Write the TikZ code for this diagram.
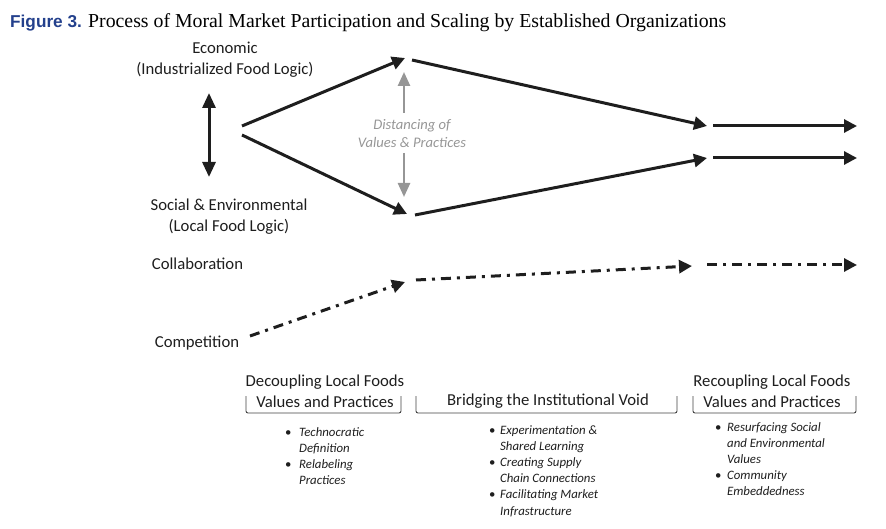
\documentclass[tikz,border=0pt]{standalone}
\usepackage{fontspec}
\setmainfont{Carlito}
\newfontfamily\titleserif{Liberation Serif}
\newfontfamily\titlesans{Liberation Sans}
\usetikzlibrary{arrows.meta}
\definecolor{figblue}{RGB}{35,64,140}
\definecolor{distgray}{RGB}{150,150,150}
\definecolor{ink}{RGB}{30,30,30}
\begin{document}
\begin{tikzpicture}[x=1pt,y=-1pt,
  flow/.style={line width=3pt, draw=ink, -{Triangle[length=13pt,width=13pt]}},
  dashflow/.style={flow, dash pattern=on 10pt off 6pt on 3pt off 6pt},
  grayarrow/.style={line width=2.5pt, draw=distgray, -{Triangle[length=14pt,width=12pt]}},
  lbl/.style={font=\fontsize{16.7}{21}\selectfont, align=center, text=ink, inner sep=0pt},
  distlbl/.style={font=\fontsize{14.6}{18}\selectfont\itshape, align=center, text=distgray, inner sep=0pt},
  bracket/.style={line width=0.9pt, draw=ink!85, rounded corners=2pt},
  blist/.style={font=\fontsize{12.8}{16.2}\selectfont\itshape, anchor=base west, inner sep=0pt, text=ink}
]
\useasboundingbox (0,0) rectangle (886,529);

% title
\node[anchor=base west, inner sep=0pt, text=figblue, font=\titlesans\bfseries\fontsize{17.2}{19}\selectfont] (figlab) at (10,28) {Figure 3.};
\node[anchor=base west, inner sep=0pt, text=black, font=\titleserif\fontsize{19.8}{22}\selectfont] (title) at (88,28) {Process of Moral Market Participation and Scaling by Established Organizations};

% logic labels
\node[lbl] (econ) at (225,59.5) {Economic\\(Industrialized Food Logic)};
\node[lbl] (social) at (229,217) {Social \& Environmental\\(Local Food Logic)};
\node[lbl] (collab) at (197.5,264) {Collaboration};
\node[lbl] (comp) at (197,343) {Competition};
\node[distlbl] (dist) at (412,134) {Distancing of\\Values \& Practices};

% coordinates
\coordinate (vtop) at (209,93);
\coordinate (vbot) at (209,177);
\coordinate (su) at (242,126);
\coordinate (sl) at (242,135);
\coordinate (tu) at (405,58);
\coordinate (tl) at (407,214);
\coordinate (u2s) at (412,60);
\coordinate (l2s) at (415,215);
\coordinate (u2e) at (707,126);
\coordinate (l2e) at (707,158);
\coordinate (u3s) at (713,126);
\coordinate (l3s) at (713,158);
\coordinate (u3e) at (857,126);
\coordinate (l3e) at (857,158);
\coordinate (gts) at (404,113);
\coordinate (gte) at (404,72);
\coordinate (gbs) at (404,153);
\coordinate (gbe) at (404,197);
\coordinate (c1s) at (250,336);
\coordinate (c1e) at (405,282);
\coordinate (c2s) at (416,280);
\coordinate (c2e) at (692,266);
\coordinate (c3s) at (707,265);
\coordinate (c3e) at (857,265);

% arrows
\draw[line width=3pt, draw=ink, {Triangle[length=15pt,width=13pt]}-{Triangle[length=15pt,width=13pt]}] (vtop) -- (vbot);
\draw[flow] (su) -- (tu);
\draw[flow] (sl) -- (tl);
\draw[flow] (u2s) -- (u2e);
\draw[flow] (l2s) -- (l2e);
\draw[flow] (u3s) -- (u3e);
\draw[flow] (l3s) -- (l3e);
\draw[grayarrow] (gts) -- (gte);
\draw[grayarrow] (gbs) -- (gbe);
\draw[dashflow] (c1s) -- (c1e);
\draw[dashflow] (c2s) -- (c2e);
\draw[dashflow] (c3s) -- (c3e);

% stage headers
\node[lbl] (dec) at (325,391) {Decoupling Local Foods\\Values and Practices};
\node[lbl] (bridge) at (548,401) {Bridging the Institutional Void};
\node[lbl] (rec) at (772,391) {Recoupling Local Foods\\Values and Practices};

% brackets
\draw[bracket] (246,396) -- (246,413) -- (401,413) -- (401,396);
\draw[bracket] (416,396) -- (416,413) -- (677,413) -- (677,396);
\draw[bracket] (693,396) -- (693,413) -- (856,413) -- (856,396);

% bullet lists
\node[blist] (list1) at (285,436) {\begin{tabular}[t]{@{}l@{}l@{}}
\makebox[14pt][l]{\upshape\textbullet} & Technocratic\\
 & Definition\\
\makebox[14pt][l]{\upshape\textbullet} & Relabeling\\
 & Practices
\end{tabular}};
\node[blist] (list2) at (489,434) {\begin{tabular}[t]{@{}l@{}l@{}}
\makebox[11pt][l]{\upshape\textbullet} & Experimentation \&\\
 & Shared Learning\\
\makebox[11pt][l]{\upshape\textbullet} & Creating Supply\\
 & Chain Connections\\
\makebox[11pt][l]{\upshape\textbullet} & Facilitating Market\\
 & Infrastructure
\end{tabular}};
\node[blist] (list3) at (715,431) {\begin{tabular}[t]{@{}l@{}l@{}}
\makebox[12pt][l]{\upshape\textbullet} & Resurfacing Social\\
 & and Environmental\\
 & Values\\
\makebox[12pt][l]{\upshape\textbullet} & Community\\
 & Embeddedness
\end{tabular}};
\end{tikzpicture}
\end{document}
